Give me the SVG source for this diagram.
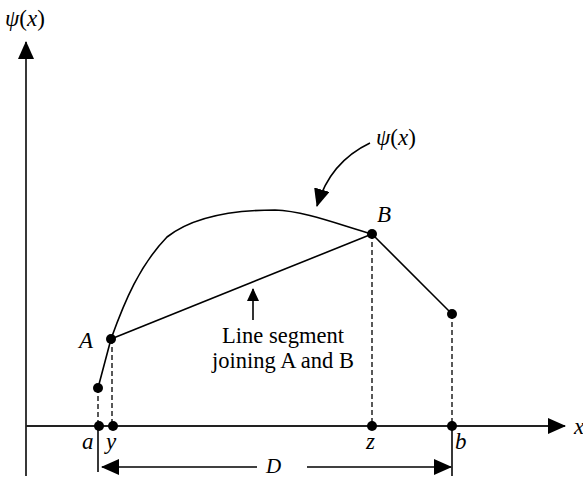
<svg xmlns="http://www.w3.org/2000/svg" width="583" height="478" viewBox="0 0 583 478">
<style>
.ln{stroke:#000;stroke-width:1.6;fill:none}
.ax{stroke:#222;stroke-width:1.8;fill:none}
.ds{stroke:#222;stroke-width:1.5;stroke-dasharray:5,3;fill:none}
.pt{fill:#000}
text{font-family:"Liberation Serif","Times New Roman",serif;font-size:23px;fill:#000}
.it{font-style:italic}
.lb{font-size:22.5px}
</style>
<defs>
<marker id="ah" markerWidth="13" markerHeight="12" refX="12" refY="6" orient="auto" markerUnits="userSpaceOnUse" viewBox="0 0 13 12">
<path d="M0,0 L13,6 L0,12 z" fill="#000"/>
</marker>
<marker id="ahb" markerWidth="18" markerHeight="16" refX="17" refY="8" orient="auto" markerUnits="userSpaceOnUse" viewBox="0 0 18 16">
<path d="M0,0 L18,8 L0,16 z" fill="#000"/>
</marker>
</defs>
<g id="connectors">
<line class="ax" x1="26" y1="476" x2="26" y2="42" marker-end="url(#ahb)"/>
<line class="ax" x1="26" y1="426" x2="565" y2="426" marker-end="url(#ahb)"/>
<line class="ax" x1="98" y1="426" x2="98" y2="472"/>
<line class="ax" x1="452" y1="426" x2="452" y2="476"/>
<line class="ln" x1="257" y1="467" x2="102" y2="467" marker-end="url(#ahb)"/>
<line class="ln" x1="307" y1="467" x2="451" y2="467" marker-end="url(#ahb)"/>
<line class="ds" x1="98" y1="388" x2="98" y2="426"/>
<line class="ds" x1="112" y1="339" x2="112" y2="426"/>
<line class="ds" x1="372" y1="234" x2="372" y2="426"/>
<line class="ds" x1="452" y1="314" x2="452" y2="426"/>
<path class="ln" d="M98,388 L111,339 C125,300 140,265 167,237 C195,215 240,210 275,210 C305,211 340,225 372,234"/>
<line class="ln" x1="111" y1="339" x2="372" y2="234"/>
<line class="ln" x1="372" y1="234" x2="452" y2="314"/>
<line class="ln" x1="253" y1="320" x2="253" y2="289" marker-end="url(#ah)"/>
<path class="ln" d="M370,143 Q330,162 317,206" marker-end="url(#ahb)"/>
</g>
<g id="points">
<circle class="pt" cx="98" cy="388" r="5"/>
<circle class="pt" cx="111" cy="339" r="5"/>
<circle class="pt" cx="372" cy="234" r="5"/>
<circle class="pt" cx="452" cy="314" r="5"/>
<circle class="pt" cx="99" cy="426" r="5"/>
<circle class="pt" cx="113" cy="426" r="5"/>
<circle class="pt" cx="372" cy="426" r="5"/>
<circle class="pt" cx="452" cy="426" r="5"/>
</g>
<g id="labels">
<text x="5" y="26"><tspan class="it">ψ</tspan>(<tspan class="it">x</tspan>)</text>
<text x="376" y="145"><tspan class="it">ψ</tspan>(<tspan class="it">x</tspan>)</text>
<text class="it" x="377" y="222">B</text>
<text class="it" x="79" y="348">A</text>
<text class="lb" x="283" y="343" text-anchor="middle">Line segment</text>
<text class="lb" x="283" y="368" text-anchor="middle">joining A and B</text>
<text class="it" x="82" y="449">a</text>
<text class="it" x="106" y="449">y</text>
<text class="it" x="366" y="449">z</text>
<text class="it" x="455" y="449">b</text>
<text class="it" x="266" y="473" style="font-size:21px">D</text>
<text class="it" x="574" y="434">x</text>
</g>
</svg>
